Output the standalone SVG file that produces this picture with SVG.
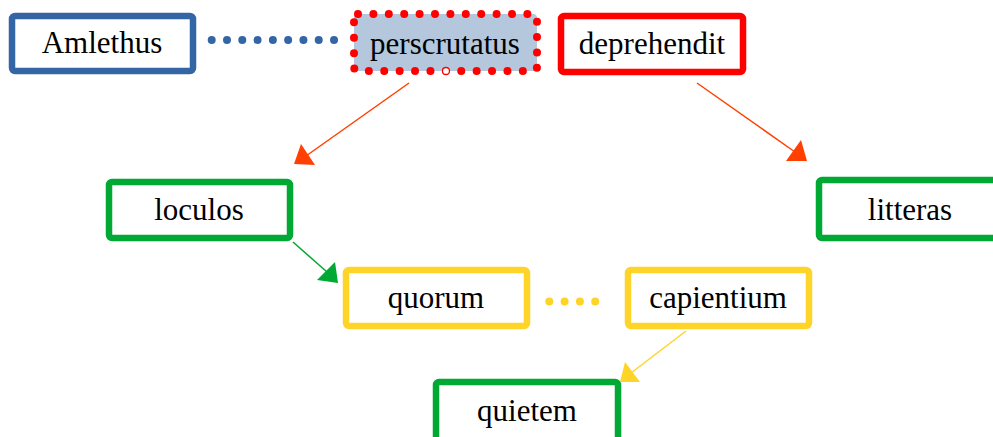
<svg xmlns="http://www.w3.org/2000/svg" width="993" height="437" viewBox="0 0 993 437">
<style>
  text { font-family: "Liberation Serif", "Times New Roman", serif; font-size: 31px; fill: #000; text-anchor: middle; }
  .box { fill: #fff; stroke-width: 6.5; }
  .blue { stroke: #3465a4; }
  .red { stroke: #ff0000; }
  .green { stroke: #00a933; }
  .yellow { stroke: #ffd428; }
  .conn { fill: none; stroke-width: 1.5; }
</style>
<rect width="993" height="437" fill="#fff"/>
<g id="connectors">
  <line x1="211.7" y1="40" x2="334.5" y2="40" stroke="#3465a4" stroke-width="8" stroke-linecap="round" stroke-dasharray="0 15.29"/>
  <line x1="549.3" y1="301.5" x2="595.5" y2="301.5" stroke="#ffd428" stroke-width="8" stroke-linecap="round" stroke-dasharray="0 15.3"/>
  <line class="conn" x1="409" y1="83" x2="306" y2="156" stroke="#ff4000"/>
  <polygon points="294,164 301,144 315,165" fill="#ff4000"/>
  <line class="conn" x1="697" y1="83" x2="795" y2="152" stroke="#ff4000"/>
  <polygon points="807,161 801,140 786,161" fill="#ff4000"/>
  <line class="conn" x1="293" y1="242" x2="327" y2="272" stroke="#00a933"/>
  <polygon points="338,283 335,262 317,280" fill="#00a933"/>
  <line class="conn" x1="686" y1="331" x2="631" y2="373" stroke="#ffd428"/>
  <polygon points="620,382 625,362 640,382" fill="#ffd428"/>
</g>
<g id="node-amlethus">
  <rect class="box blue" x="12" y="16" width="181" height="55" rx="3"/>
  <text x="102" y="53">Amlethus</text>
</g>
<g id="node-perscrutatus">
  <rect x="354" y="14" width="183" height="57" rx="4" fill="#b4c7dc"/>
  <rect x="354" y="14" width="183" height="57" rx="4" fill="none" stroke="#ff0000" stroke-width="8" stroke-linecap="round" stroke-dasharray="0 15.4"/>
  <circle cx="446" cy="71" r="3.5" fill="#fff" stroke="#ff0000" stroke-width="1.3"/>
  <text x="445" y="54">perscrutatus</text>
</g>
<g id="node-deprehendit">
  <rect class="box red" x="561" y="16" width="182" height="56" rx="3"/>
  <text x="652" y="54">deprehendit</text>
</g>
<g id="node-loculos">
  <rect class="box green" x="109" y="182" width="181" height="56" rx="3"/>
  <text x="199" y="220">loculos</text>
</g>
<g id="node-litteras">
  <rect class="box green" x="819" y="180" width="181" height="58" rx="3"/>
  <text x="910" y="220">litteras</text>
</g>
<g id="node-quorum">
  <rect class="box yellow" x="346" y="270" width="181" height="56" rx="3"/>
  <text x="436" y="308">quorum</text>
</g>
<g id="node-capientium">
  <rect class="box yellow" x="628" y="270" width="181" height="56" rx="3"/>
  <text x="718" y="308">capientium</text>
</g>
<g id="node-quietem">
  <rect class="box green" x="436" y="382" width="182" height="60" rx="3"/>
  <text x="527" y="421">quietem</text>
</g>
</svg>
